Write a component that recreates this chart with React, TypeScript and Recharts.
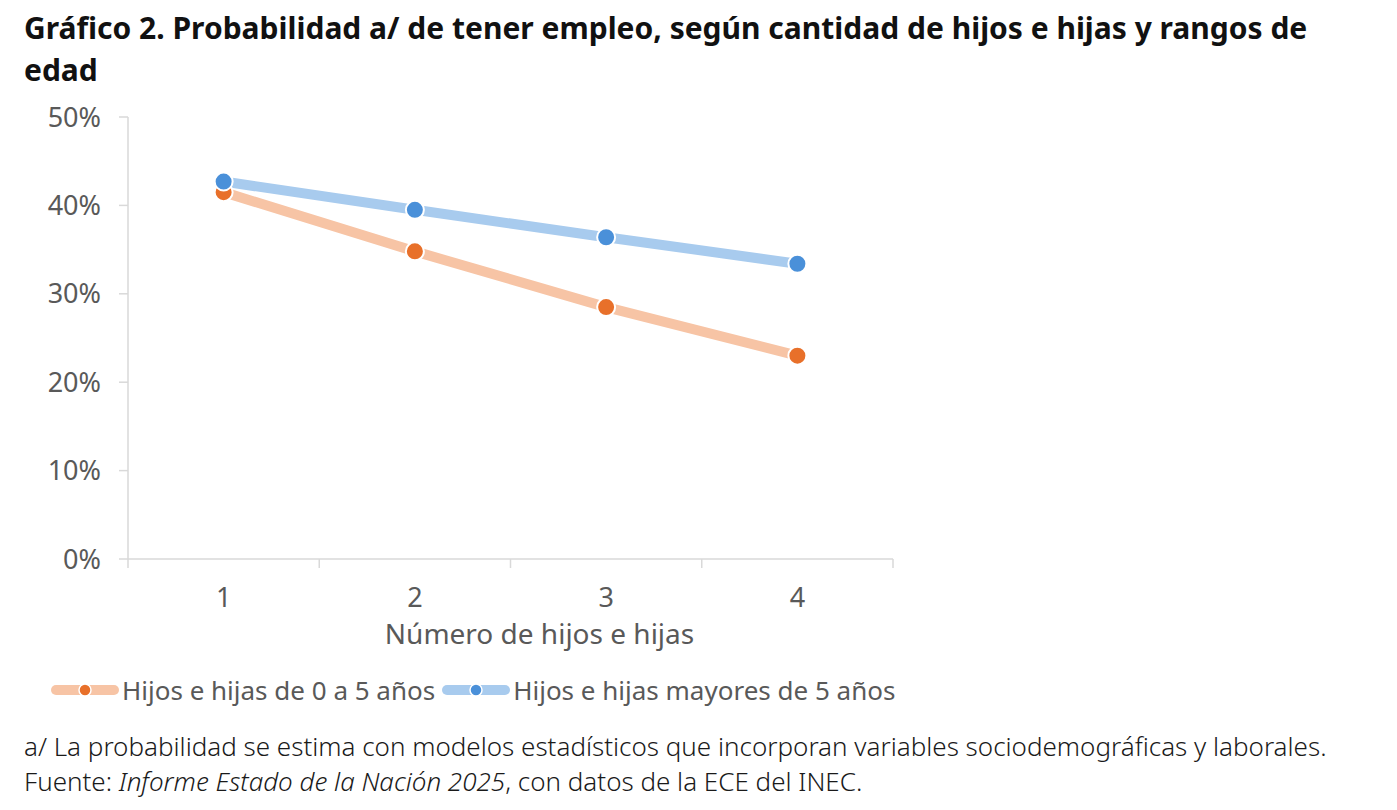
import React from 'react';
import { LineChart, Line, XAxis, YAxis, CartesianGrid } from 'recharts';

const FONT = '"Noto Sans", "Open Sans", sans-serif';
const GREY = '#595959';

const hijos = [1, 2, 3, 4];
const deCeroACinco = [0.415, 0.348, 0.285, 0.23];
const mayoresDeCinco = [0.427, 0.395, 0.364, 0.334];
const yTicks = [0, 0.1, 0.2, 0.3, 0.4, 0.5];
// ticks between categories (Excel-style) plus the category labels
const xTicks = [0.5, 1, 1.5, 2, 2.5, 3, 3.5, 4, 4.5];

const series = [
  { key: 'a', name: 'Hijos e hijas de 0 a 5 años', line: '#F7C4A5', dot: '#E8702A', values: deCeroACinco },
  { key: 'b', name: 'Hijos e hijas mayores de 5 años', line: '#A8CBEE', dot: '#4A90D9', values: mayoresDeCinco },
];

const data = hijos.map((h, i) => ({ x: h, a: deCeroACinco[i], b: mayoresDeCinco[i] }));

if (typeof document !== 'undefined') document.body.style.margin = '0';

function XTick(props: any) {
  const { x, y, payload } = props;
  const v = payload.value as number;
  if (!Number.isInteger(v)) {
    return <line x1={x} x2={x} y1={y} y2={y + 9} stroke="#d9d9d9" strokeWidth={1.5} />;
  }
  return (
    <text x={x} y={y + 48} textAnchor="middle" fill={GREY} fontSize={27} fontFamily={FONT}>
      {v}
    </text>
  );
}

function LegendIcon({ line, dot }: { line: string; dot: string }) {
  return (
    <svg width={70} height={20} style={{ display: 'block' }}>
      <line x1={6} x2={64} y1={10} y2={10} stroke={line} strokeWidth={10} strokeLinecap="round" />
      <circle cx={35} cy={10} r={6} fill={dot} stroke="#fff" strokeWidth={1.5} />
    </svg>
  );
}

export default function App() {
  return (
    <div style={{ position: 'relative', width: 1397, height: 810, background: '#fff', fontFamily: FONT }}>
      <div style={{ position: 'absolute', left: 24, top: 7, fontSize: 30, fontWeight: 700, lineHeight: '42px', color: '#111' }}>
        Gráfico 2. Probabilidad a/ de tener empleo, según cantidad de hijos e hijas y rangos de
        <br />
        edad
      </div>

      <div style={{ position: 'absolute', left: 0, top: 80 }}>
        <LineChart width={920} height={580} data={data} margin={{ top: 37, right: 27, left: 50, bottom: 0 }}>
          <CartesianGrid horizontal={false} vertical={false} />
          <XAxis
            dataKey="x"
            type="number"
            domain={[0.5, 4.5]}
            ticks={xTicks}
            interval={0}
            tick={<XTick />}
            tickLine={false}
            tickSize={0}
            tickMargin={0}
            axisLine={{ stroke: '#d9d9d9', strokeWidth: 1.5 }}
            height={101}
            label={{ value: 'Número de hijos e hijas', position: 'insideBottom', offset: 16, dx: 29, fill: GREY, fontSize: 28, fontFamily: FONT }}
          />
          <YAxis
            domain={[0, 0.5]}
            ticks={yTicks}
            width={78}
            tickFormatter={(v: number) => `${Math.round(v * 100)}%`}
            tick={{ fill: GREY, fontSize: 27, fontFamily: FONT }}
            tickSize={9}
            tickMargin={18}
            tickLine={{ stroke: '#d9d9d9', strokeWidth: 1.5 }}
            axisLine={{ stroke: '#d9d9d9', strokeWidth: 1.5 }}
          />
          {series.map((s) => (
            <Line
              key={s.key}
              dataKey={s.key}
              name={s.name}
              stroke={s.line}
              strokeWidth={10}
              dot={{ r: 9, fill: s.dot, stroke: '#fff', strokeWidth: 2 }}
              activeDot={false}
              isAnimationActive={false}
            />
          ))}
        </LineChart>
      </div>

      <div style={{ position: 'absolute', left: 50, top: 672, display: 'flex', alignItems: 'center', fontSize: 26, color: GREY }}>
        {series.map((s, i) => (
          <div key={s.key} style={{ display: 'flex', alignItems: 'center', marginRight: i === 0 ? 6 : 0 }}>
            <LegendIcon line={s.line} dot={s.dot} />
            <span style={{ marginLeft: 2 }}>{s.name}</span>
          </div>
        ))}
      </div>

      <div style={{ position: 'absolute', left: 24, top: 729, fontSize: 26, fontWeight: 300, lineHeight: '35px', color: '#1a1a1a' }}>
        a/ La probabilidad se estima con modelos estadísticos que incorporan variables sociodemográficas y laborales.
        <br />
        Fuente: <i>Informe Estado de la Nación 2025</i>, con datos de la ECE del INEC.
      </div>
    </div>
  );
}
